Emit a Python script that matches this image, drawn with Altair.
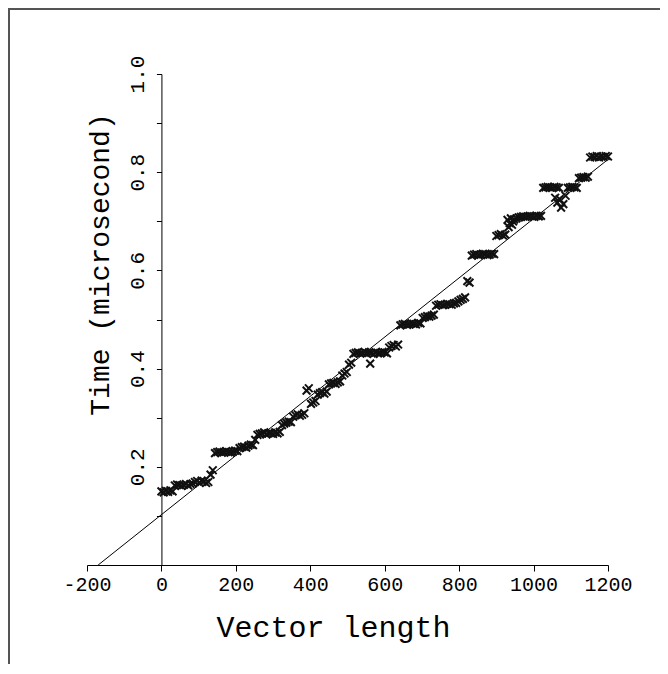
import altair as alt
import pandas as pd

# ---- data ----
vec_len = [
    0, 6, 12, 18, 24, 30,
    36, 42, 48, 54, 60, 66, 72, 78, 84,
    90, 96, 102, 108, 114, 120, 126,
    132, 138,
    144, 150, 156, 162, 168, 174, 180, 186, 192, 198, 204,
    210, 216, 222, 228, 234, 240, 246,
    252,
    258, 264, 270, 276, 282, 288, 294, 300, 306, 312, 318,
    324, 330, 336, 342, 348,
    354, 360, 366, 372, 378, 384,
    390, 396,
    402, 408, 414,
    420, 426, 432, 438, 444,
    450, 456, 462, 468, 474, 480,
    486, 492, 498,
    504, 510,
    516, 522, 528, 534, 540, 546, 552, 558, 564, 570, 576, 582, 588, 594, 600, 606,
    561,
    612, 618, 624, 630, 636,
    642, 648, 654, 660, 666, 672, 678, 684, 690, 696,
    702, 708, 714, 720, 726, 732,
    738, 744, 750, 756, 762, 768, 774, 780, 786, 792,
    798, 804, 810, 816,
    822, 828,
    834, 840, 846, 852, 858, 864, 870, 876, 882, 888, 894,
    900, 906, 912, 918, 924,
    930, 933, 936, 939, 942, 945, 948,
    954, 960, 966, 972, 978, 984, 990, 996, 1002, 1008, 1014, 1020,
    1026, 1032, 1038, 1044, 1050, 1056, 1062, 1068,
    1058, 1064, 1070, 1074, 1080, 1086,
    1092, 1098, 1104, 1110, 1116,
    1122, 1128, 1134, 1140, 1146,
    1152, 1158, 1164, 1170, 1176, 1182, 1188, 1194, 1200,
]
time_us = [
    0.150, 0.148, 0.151, 0.149, 0.152, 0.150,
    0.162, 0.164, 0.163, 0.161, 0.163, 0.165, 0.162, 0.165, 0.166,
    0.169, 0.171, 0.168, 0.172, 0.170, 0.167, 0.169,
    0.184, 0.193,
    0.228, 0.230, 0.231, 0.229, 0.230, 0.232, 0.230, 0.229, 0.231, 0.233, 0.232,
    0.238, 0.240, 0.241, 0.239, 0.243, 0.245, 0.244,
    0.255,
    0.265, 0.267, 0.268, 0.270, 0.266, 0.268, 0.269, 0.267, 0.270, 0.268, 0.271,
    0.285, 0.288, 0.290, 0.292, 0.291,
    0.302, 0.305, 0.307, 0.304, 0.306, 0.309,
    0.355, 0.360,
    0.328, 0.331, 0.334,
    0.347, 0.350, 0.352, 0.349, 0.353,
    0.368, 0.370, 0.371, 0.369, 0.372, 0.374,
    0.386, 0.390, 0.393,
    0.408, 0.412,
    0.430, 0.432, 0.433, 0.431, 0.432, 0.434, 0.431, 0.433, 0.432, 0.430, 0.433, 0.431, 0.432, 0.434, 0.433, 0.431,
    0.410,
    0.443, 0.446, 0.448, 0.445, 0.449,
    0.488, 0.490, 0.491, 0.489, 0.490, 0.492, 0.491, 0.490, 0.493, 0.492,
    0.503, 0.505, 0.507, 0.506, 0.508, 0.510,
    0.528, 0.530, 0.531, 0.529, 0.530, 0.532, 0.531, 0.530, 0.533, 0.534,
    0.537, 0.540, 0.542, 0.545,
    0.578, 0.575,
    0.630, 0.632, 0.633, 0.631, 0.632, 0.634, 0.633, 0.631, 0.632, 0.634, 0.633,
    0.670, 0.672, 0.674, 0.671, 0.673,
    0.703, 0.688, 0.696, 0.706, 0.693, 0.700, 0.704,
    0.706, 0.708, 0.709, 0.710, 0.709, 0.710, 0.711, 0.710, 0.709, 0.711, 0.710, 0.711,
    0.768, 0.769, 0.770, 0.769, 0.768, 0.770, 0.769, 0.768,
    0.748, 0.738, 0.745, 0.728, 0.735, 0.752,
    0.768, 0.769, 0.770, 0.769, 0.768,
    0.788, 0.789, 0.790, 0.789, 0.791,
    0.830, 0.832, 0.831, 0.833, 0.830, 0.832, 0.831, 0.833, 0.832,
]
fit_x = [-170, 1200]
fit_y = [0.0, 0.826]
x_ticks = [-200, 0, 200, 400, 600, 800, 1000, 1200]
y_ticks = [0.1, 0.2, 0.3, 0.4, 0.5, 0.6, 0.7, 0.8, 0.9, 1.0]

pts = pd.DataFrame({"x": vec_len, "y": time_us})
fit = pd.DataFrame({"x": fit_x, "y": fit_y})

FONT = "Liberation Mono"
W, H = 521, 491
x0_px = W * 200 / 1400  # pixel position of x = 0 inside the plot

xscale = alt.Scale(domain=[-200, 1200], nice=False, zero=False)
yscale = alt.Scale(domain=[0, 1], nice=False, zero=False)

xaxis = alt.Axis(
    values=x_ticks, labelExpr="'' + datum.value", title="Vector length",
    grid=False, tickSize=6, labelPadding=3, labelOverlap=False, labelFlush=False,
    labelFont=FONT, labelFontSize=20, labelColor="black",
    titleFont=FONT, titleFontSize=30, titleFontWeight="normal", titleColor="black",
    titleX=246, titleY=71, titleAlign="center", titleBaseline="alphabetic",
    domainColor="black", tickColor="black", domainWidth=1, tickWidth=1,
)
yaxis = alt.Axis(
    values=y_ticks,
    labelExpr="round(datum.value*10) % 2 == 0 ? format(datum.value, '.1f') : ''",
    offset=-x0_px, title="Time (microsecond)",
    grid=False, tickSize=5, labelPadding=13, labelOverlap=False, labelFlush=False,
    labelAngle=270, labelAlign="center", labelBaseline="alphabetic",
    labelFont=FONT, labelFontSize=21, labelColor="black",
    titleFont=FONT, titleFontSize=28, titleFontWeight="normal", titleColor="black",
    titleAngle=270, titleX=-53, titleY=190, titleAlign="center", titleBaseline="alphabetic",
    domainColor="black", tickColor="black", domainWidth=1, tickWidth=1,
)

xenc = alt.X("x:Q", scale=xscale, axis=xaxis)
yenc = alt.Y("y:Q", scale=yscale, axis=yaxis)

points = alt.Chart(pts).mark_point(
    shape="M-1,-1L1,1M-1,1L1,-1", filled=False, size=60, strokeWidth=2,
    color="#111111", opacity=1,
).encode(x=xenc, y=yenc)

line = alt.Chart(fit).mark_line(color="black", strokeWidth=1).encode(x=xenc, y=yenc)

frame_top = alt.Chart(pts).mark_rule(color="#555555", strokeWidth=1.5).encode(
    x=alt.value(-79), x2=alt.value(W + 60), y=alt.value(-65.3)
)
frame_left = alt.Chart(pts).mark_rule(color="#555555", strokeWidth=1.5).encode(
    x=alt.value(-78.3), y=alt.value(-66), y2=alt.value(590)
)

chart = alt.layer(line, points, frame_top, frame_left).properties(
    width=W, height=H,
    background="white",
    autosize=alt.AutoSizeParams(type="none"),
    padding={"left": 79, "top": 66, "right": 52, "bottom": 101},
).configure_view(stroke=None)

chart.save("out.html", embed_options={"renderer": "svg", "actions": False})
